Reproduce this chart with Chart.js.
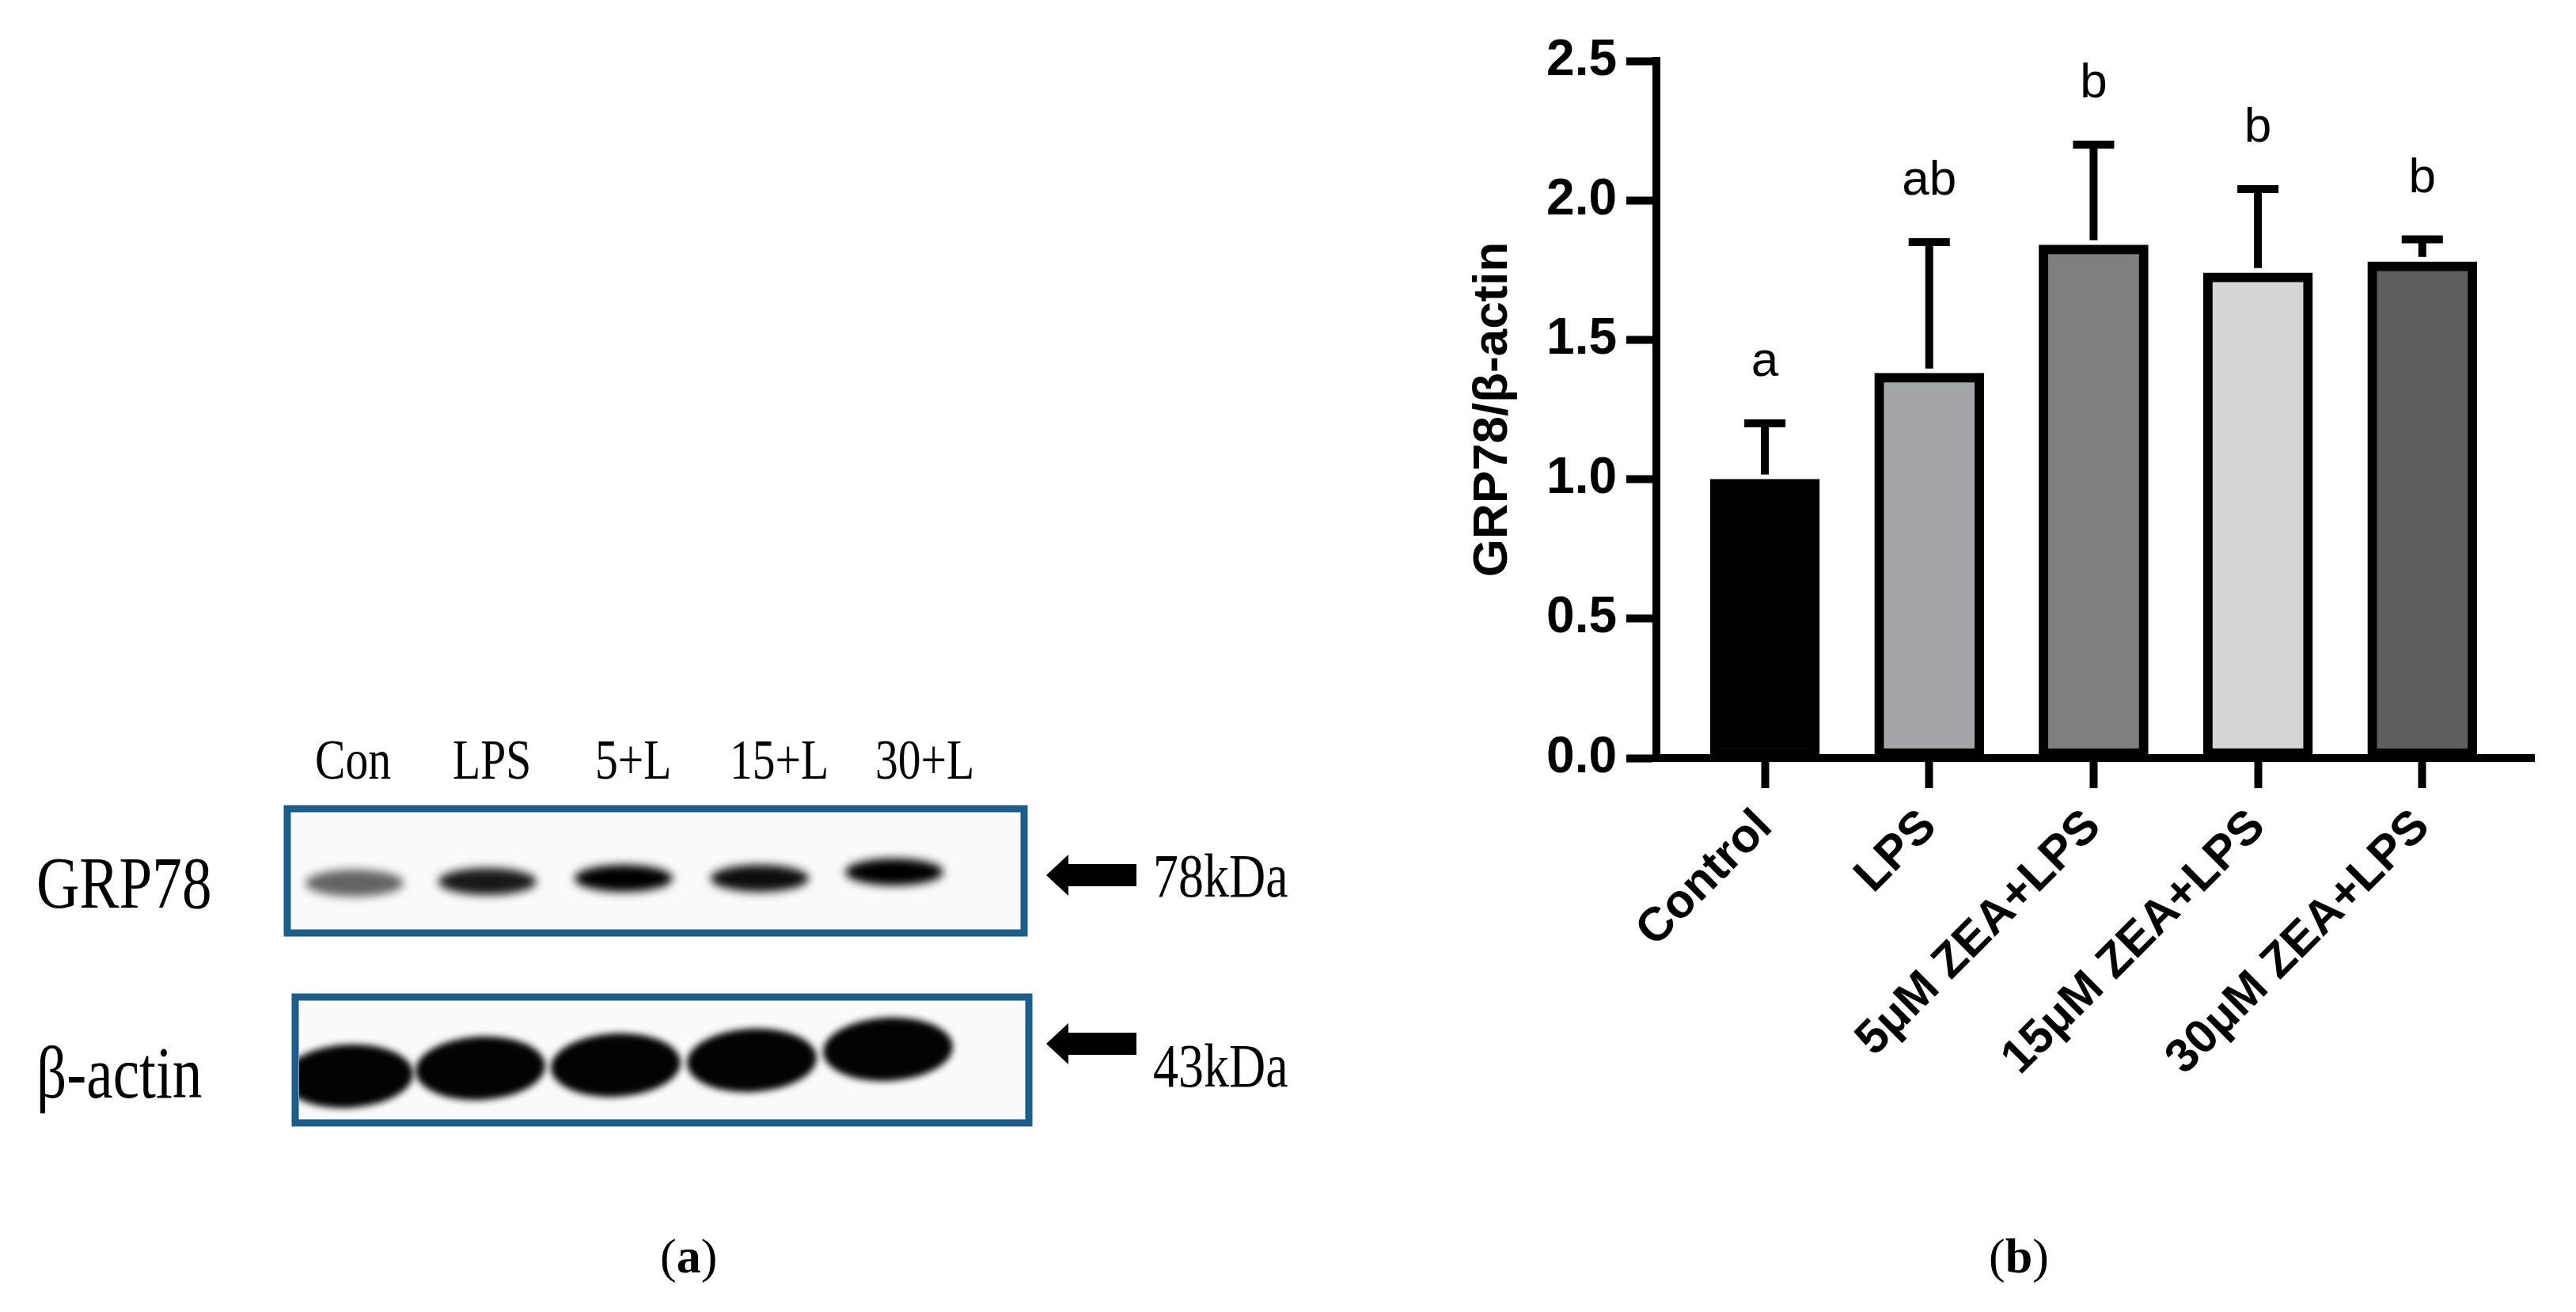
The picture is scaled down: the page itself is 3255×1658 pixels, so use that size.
<!DOCTYPE html>
<html><head><meta charset="utf-8">
<script src="https://cdn.jsdelivr.net/npm/chart.js@4.4.1/dist/chart.umd.min.js"></script>
<style>
html,body{margin:0;padding:0;background:#fff;width:3255px;height:1658px;overflow:hidden;position:relative}
.t{position:absolute;font-family:"Liberation Serif","DejaVu Serif",serif;color:#000;white-space:nowrap;line-height:1;transform-origin:left center}
</style></head><body>
<canvas id="blot" width="1850" height="1658" style="position:absolute;left:0;top:0"></canvas>
<div style="position:absolute;left:1850px;top:0;width:1405px;height:1560px"><canvas id="c"></canvas></div>
<div class="t" style="left:398px;top:924px;font-size:72px;transform:scaleX(0.8)">Con</div>
<div class="t" style="left:572px;top:924px;font-size:72px;transform:scaleX(0.8)">LPS</div>
<div class="t" style="left:752px;top:924px;font-size:72px;transform:scaleX(0.8)">5+L</div>
<div class="t" style="left:922px;top:924px;font-size:72px;transform:scaleX(0.8)">15+L</div>
<div class="t" style="left:1106px;top:924px;font-size:72px;transform:scaleX(0.8)">30+L</div>
<div class="t" style="left:46px;top:1068px;font-size:94px;transform:scaleX(0.8)">GRP78</div>
<div class="t" style="left:46px;top:1308px;font-size:94px;transform:scaleX(0.8)">β-actin</div>
<div class="t" style="left:1457px;top:1068px;font-size:78px;transform:scaleX(0.82)">78kDa</div>
<div class="t" style="left:1457px;top:1308px;font-size:78px;transform:scaleX(0.82)">43kDa</div>
<div class="t" style="left:834px;top:1556px;font-size:62px">(<b>a</b>)</div>
<div class="t" style="left:2513px;top:1556px;font-size:62px">(<b>b</b>)</div>
<script>
const categories = ["Control","LPS","5μM ZEA+LPS","15μM ZEA+LPS","30μM ZEA+LPS"];
const means = [1.00, 1.38, 1.84, 1.74, 1.78];
const errors = [0.20, 0.47, 0.36, 0.30, 0.08];
const letters = ["a","ab","b","b","b"];
const barColors = ["#000000","#a4a5a9","#7f7f7f","#d6d6d6","#5f5f5f"];
const yTicks = [0, 0.5, 1.0, 1.5, 2.0, 2.5];

// Western blot illustration (image-like panel)
(function(){
  const g = document.getElementById('blot').getContext('2d');
  g.fillStyle = '#fafafa';
  g.fillRect(365,1024,927,152); g.fillRect(375,1262,923,155);
  g.strokeStyle = '#1b5e8c'; g.lineWidth = 9;
  g.strokeRect(363,1022,931,157); g.strokeRect(373,1260,927,159);
  g.save(); g.beginPath(); g.rect(368,1027,921,147); g.clip();
  g.filter = 'blur(6px)';
  const gx=[448,616,788,960,1130], ga=[0.6,0.9,1,0.95,1], gy=[1116,1114,1110,1110,1102];
  gx.forEach((x,i)=>{g.fillStyle='rgba(0,0,0,'+ga[i]+')';g.beginPath();g.ellipse(x,gy[i],62,17,0,0,Math.PI*2);g.fill();});
  g.restore();
  g.save(); g.beginPath(); g.rect(378,1265,917,149); g.clip();
  g.filter = 'blur(4px)';
  const bx=[440,607,778,950,1122], by=[1360,1350,1346,1340,1326];
  bx.forEach((x,i)=>{g.fillStyle='#030303';g.beginPath();g.ellipse(x,by[i],82,40,-0.05,0,Math.PI*2);g.fill();});
  g.restore();
  g.fillStyle='#000';
  [1106,1319].forEach(y=>{g.beginPath();g.moveTo(1322,y);g.lineTo(1350,y-26);g.lineTo(1350,y-14);g.lineTo(1436,y-14);g.lineTo(1436,y+14);g.lineTo(1350,y+14);g.lineTo(1350,y+26);g.closePath();g.fill();});
})();

const errPlugin = {
  id:'err',
  afterDatasetsDraw(chart){
    const {ctx, scales:{x,y}} = chart;
    ctx.save();
    ctx.strokeStyle='#000'; ctx.lineWidth=10; ctx.lineCap='butt';
    means.forEach((m,i)=>{
      const px=x.getPixelForValue(i), p0=y.getPixelForValue(m), p1=y.getPixelForValue(m+errors[i]);
      ctx.beginPath(); ctx.moveTo(px,p0-6); ctx.lineTo(px,p1); ctx.stroke();
      ctx.beginPath(); ctx.moveTo(px-26,p1); ctx.lineTo(px+26,p1); ctx.stroke();
      ctx.fillStyle='#000'; ctx.font='62px "Liberation Sans", Arial, sans-serif';
      ctx.textAlign='center'; ctx.textBaseline='middle';
      ctx.fillText(letters[i], px, p1-77);
    });
    ctx.restore();
  }
};

new Chart(document.getElementById('c'), {
  type:'bar',
  data:{datasets:[{
    data: means.map((v,i)=>({x:i,y:v})),
    backgroundColor: barColors, borderColor:'#000', borderWidth:12, borderSkipped:false,
    barThickness:138
  }]},
  options:{
    responsive:true, maintainAspectRatio:false, animation:false,
    layout:{padding:{left:0,right:53,top:77,bottom:0}},
    plugins:{legend:{display:false},tooltip:{enabled:false}},
    scales:{
      x:{type:'linear', offset:false, min:-0.66, max:4.68,
        afterBuildTicks(s){ s.ticks = categories.map((c,i)=>({value:i})); },
        afterFit(s){ s.height = 602; },
        grid:{offset:false, drawOnChartArea:false, drawTicks:true, tickLength:38, tickWidth:10, color:'#000'},
        border:{color:'#000', width:10},
        ticks:{autoSkip:false, maxRotation:45, minRotation:45, padding:14, color:'#000',
          font:{family:'"Liberation Sans", Arial, sans-serif', size:60, weight:'bold'},
          callback:(v)=>categories[v]}
      },
      y:{min:0, max:2.5,
        afterBuildTicks(s){ s.ticks = yTicks.map(v=>({value:v})); },
        afterFit(s){ s.width = 243; },
        grid:{drawOnChartArea:false, drawTicks:true, tickLength:38, tickWidth:10, color:'#000'},
        border:{color:'#000', width:10},
        ticks:{padding:12, color:'#000', font:{family:'"Liberation Sans", Arial, sans-serif', size:64, weight:'bold'},
          callback:(v)=>Number(v).toFixed(1)},
        title:{display:true, text:'GRP78/β-actin', color:'#000', padding:{top:0,bottom:0},
          font:{family:'"Liberation Sans", Arial, sans-serif', size:62, weight:'bold'}}
      }
    }
  },
  plugins:[errPlugin]
});
</script></body></html>
